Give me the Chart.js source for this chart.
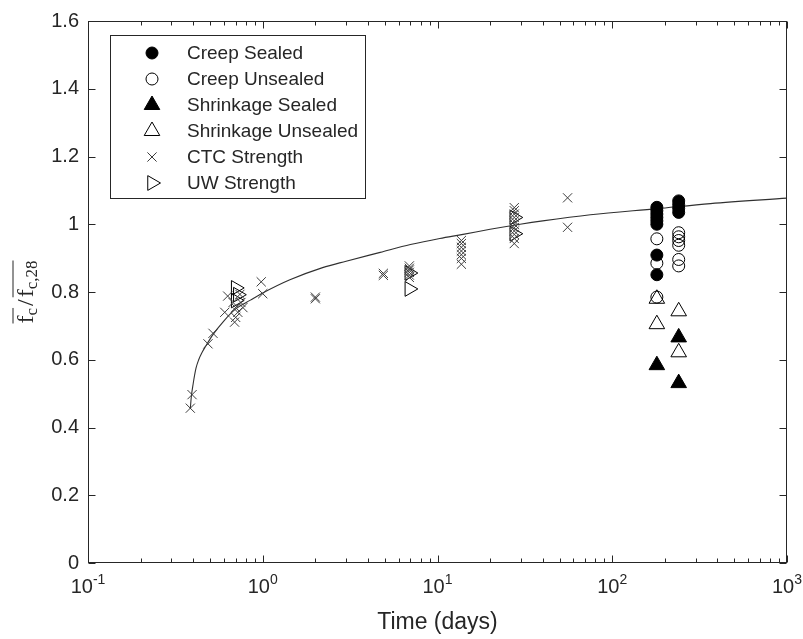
<!DOCTYPE html>
<html>
<head>
<meta charset="utf-8">
<title>Strength development</title>
<script src="https://cdn.jsdelivr.net/npm/chart.js@4.4.1/dist/chart.umd.min.js"></script>
<style>
  html, body { margin: 0; padding: 0; background: #fff; }
  canvas { display: block; }
</style>
</head>
<body>
<canvas id="strengthChart" width="803" height="639"></canvas>
<script>
// Fitted strength-gain curve (days, f/f28)
const fitDays  = [0.385, 0.39, 0.40, 0.415, 0.43, 0.45, 0.475, 0.52, 0.6, 0.7, 0.85, 1.0, 1.43, 2.2, 3.0, 4.7, 7, 10.3, 14, 20, 29.7, 40, 75, 180, 365, 1000];
const fitRatio = [0.455, 0.49, 0.53, 0.575, 0.60, 0.622, 0.643, 0.675, 0.715, 0.75, 0.776, 0.797, 0.836, 0.872, 0.891, 0.917, 0.94, 0.958, 0.97, 0.985, 1.0, 1.01, 1.028, 1.046, 1.061, 1.077];

// Measured strength ratios by specimen group
const creepSealedDays  = [180, 180, 180, 180, 180, 180, 180, 180, 240, 240, 240, 240];
const creepSealedRatio = [1.05, 1.04, 1.03, 1.02, 1.01, 1.0, 0.909, 0.851, 1.069, 1.058, 1.047, 1.035];

const creepUnsealedDays  = [180, 180, 180, 240, 240, 240, 240, 240, 240];
const creepUnsealedRatio = [0.957, 0.885, 0.785, 0.975, 0.963, 0.952, 0.938, 0.896, 0.877];

const shrinkSealedDays  = [180, 240, 240];
const shrinkSealedRatio = [0.584, 0.666, 0.531];

const shrinkUnsealedDays  = [180, 180, 240, 240];
const shrinkUnsealedRatio = [0.78, 0.705, 0.743, 0.622];

const ctcDays  = [0.385, 0.394, 0.486, 0.519, 0.606, 0.63, 0.676, 0.70, 0.72, 0.69, 0.70, 0.74, 0.77, 0.75,
                  0.98, 1.0, 2, 2, 4.9, 4.9, 6.9, 6.9, 6.9, 6.9, 6.9, 6.9,
                  13.7, 13.7, 13.7, 13.7, 13.7, 13.7, 13.7,
                  27.5, 27.5, 27.5, 27.5, 27.5, 27.5, 27.5, 27.5, 27.5, 27.5, 27.5, 55.5, 55.5];
const ctcRatio = [0.457, 0.497, 0.647, 0.678, 0.74, 0.788, 0.769, 0.754, 0.74, 0.711, 0.725, 0.793, 0.754, 0.769,
                  0.83, 0.795, 0.78, 0.785, 0.849, 0.855, 0.877, 0.87, 0.865, 0.858, 0.85, 0.843,
                  0.952, 0.943, 0.932, 0.921, 0.91, 0.899, 0.882,
                  1.049, 1.04, 1.03, 1.02, 1.01, 1.0, 0.99, 0.98, 0.97, 0.958, 0.943, 1.078, 0.991];

const uwDays  = [0.70, 0.72, 0.70, 6.9, 6.9, 27.5, 27.5];
const uwRatio = [0.812, 0.792, 0.775, 0.856, 0.809, 1.02, 0.972];

const yTicks = [0, 0.2, 0.4, 0.6, 0.8, 1, 1.2, 1.4, 1.6];
const xExponents = [-1, 0, 1, 2, 3];

const ink = '#262626';
const sans = '"Liberation Sans", Arial, Helvetica, sans-serif';
const serif = '"Liberation Serif", "Times New Roman", serif';

function toPoints(xs, ys) {
    return xs.map((d, i) => ({ x: d, y: ys[i] }));
}

function markerSet(label, xs, ys, style, filled, radius, rotation, color) {
    return {
        label: label,
        data: toPoints(xs, ys),
        pointStyle: style,
        pointRadius: radius,
        pointRotation: rotation || 0,
        pointBorderWidth: 1,
        pointBorderColor: color || '#000',
        pointBackgroundColor: filled ? '#000' : 'rgba(0,0,0,0)',
        showLine: false
    };
}

// Box, inward ticks, tick labels, axis labels and legend drawn MATLAB-style
const framePlugin = {
    id: 'matlabFrame',
    afterDraw(chart) {
        const ctx = chart.ctx;
        const a = chart.chartArea;
        const xs = chart.scales.x;
        const ys = chart.scales.y;
        const L = Math.round(a.left) + 0.5, R = Math.round(a.right) - 0.5;
        const T = Math.round(a.top) + 0.5, B = Math.round(a.bottom) - 0.5;

        ctx.save();
        ctx.strokeStyle = ink;
        ctx.lineWidth = 1;
        ctx.strokeRect(L, T, R - L, B - T);

        ctx.beginPath();
        yTicks.forEach(v => {
            const py = Math.round(ys.getPixelForValue(v)) + 0.5;
            ctx.moveTo(L, py); ctx.lineTo(L + 7, py);
            ctx.moveTo(R, py); ctx.lineTo(R - 7, py);
        });
        for (let e = -1; e <= 3; e++) {
            const px = Math.round(xs.getPixelForValue(Math.pow(10, e))) + 0.5;
            ctx.moveTo(px, B); ctx.lineTo(px, B - 7);
            ctx.moveTo(px, T); ctx.lineTo(px, T + 7);
            if (e < 3) {
                for (let m = 2; m <= 9; m++) {
                    const qx = Math.round(xs.getPixelForValue(m * Math.pow(10, e))) + 0.5;
                    ctx.moveTo(qx, B); ctx.lineTo(qx, B - 4);
                    ctx.moveTo(qx, T); ctx.lineTo(qx, T + 4);
                }
            }
        }
        ctx.stroke();

        // x tick labels as 10 with superscript exponent
        ctx.fillStyle = ink;
        ctx.textBaseline = 'alphabetic';
        ctx.textAlign = 'left';
        xExponents.forEach(e => {
            const px = xs.getPixelForValue(Math.pow(10, e));
            ctx.font = '20px ' + sans;
            const wBase = ctx.measureText('10').width;
            ctx.font = '14px ' + sans;
            const wExp = ctx.measureText(String(e)).width;
            const start = px - (wBase + wExp) / 2;
            ctx.font = '20px ' + sans;
            ctx.fillText('10', start, 593);
            ctx.font = '14px ' + sans;
            ctx.fillText(String(e), start + wBase, 584);
        });

        ctx.font = '23px ' + sans;
        ctx.textAlign = 'center';
        ctx.fillText('Time (days)', (a.left + a.right) / 2, 629);

        drawYLabel(ctx, 33, (a.top + a.bottom) / 2);
        drawLegend(chart);
        ctx.restore();
    }
};

function drawYLabel(ctx, baseX, midY) {
    ctx.save();
    ctx.translate(baseX, midY);
    ctx.rotate(-Math.PI / 2);
    ctx.textAlign = 'left';
    ctx.textBaseline = 'alphabetic';
    const big = '24px ' + serif, small = '17px ' + serif;
    const parts = [
        { t: 'f', f: big, dy: 0, bar: 1 },
        { t: 'c', f: small, dy: 4, bar: 1 },
        { t: '/', f: big, dy: 0, bar: 0, pad: 2 },
        { t: 'f', f: big, dy: 0, bar: 2 },
        { t: 'c,28', f: small, dy: 4, bar: 2 }
    ];
    let total = 0;
    parts.forEach(p => {
        ctx.font = p.f;
        p.w = ctx.measureText(p.t).width + (p.pad || 0) * 2;
        total += p.w;
    });
    let cx = -total / 2;
    const bars = {};
    parts.forEach(p => {
        ctx.font = p.f;
        ctx.fillText(p.t, cx + (p.pad || 0), p.dy);
        if (p.bar) {
            const b = bars[p.bar] || (bars[p.bar] = { s: cx, e: cx });
            b.e = cx + p.w;
        }
        cx += p.w;
    });
    ctx.strokeStyle = ink;
    ctx.lineWidth = 1;
    ctx.beginPath();
    Object.values(bars).forEach(b => {
        ctx.moveTo(b.s, -20); ctx.lineTo(b.e, -20);
    });
    ctx.stroke();
    ctx.restore();
}

function drawLegend(chart) {
    const ctx = chart.ctx;
    const sets = chart.data.datasets.filter(d => !d.isFit);
    const box = { x: 110.5, y: 35.5, w: 255, h: 163 };
    ctx.save();
    ctx.fillStyle = '#fff';
    ctx.fillRect(box.x, box.y, box.w, box.h);
    ctx.strokeStyle = ink;
    ctx.lineWidth = 1;
    ctx.strokeRect(box.x, box.y, box.w, box.h);
    sets.forEach((d, i) => {
        const cy = 53 + i * 26;
        ctx.fillStyle = d.pointBackgroundColor;
        ctx.strokeStyle = d.pointBorderColor;
        ctx.lineWidth = d.pointBorderWidth;
        Chart.helpers.drawPoint(ctx, {
            pointStyle: d.pointStyle,
            radius: d.pointRadius,
            rotation: d.pointRotation,
            borderWidth: d.pointBorderWidth
        }, 152, cy);
        ctx.fillStyle = ink;
        ctx.font = '19px ' + sans;
        ctx.textAlign = 'left';
        ctx.textBaseline = 'middle';
        ctx.fillText(d.label, 187, cy + 1);
    });
    ctx.restore();
}

const datasets = [
    markerSet('Creep Sealed', creepSealedDays, creepSealedRatio, 'circle', true, 6),
    markerSet('Creep Unsealed', creepUnsealedDays, creepUnsealedRatio, 'circle', false, 6),
    markerSet('Shrinkage Sealed', shrinkSealedDays, shrinkSealedRatio, 'triangle', true, 9),
    markerSet('Shrinkage Unsealed', shrinkUnsealedDays, shrinkUnsealedRatio, 'triangle', false, 9),
    markerSet('CTC Strength', ctcDays, ctcRatio, 'crossRot', false, 6.5, 0, '#3c3c3c'),
    markerSet('UW Strength', uwDays, uwRatio, 'triangle', false, 8.5, 90),
    {
        label: 'fit',
        isFit: true,
        data: toPoints(fitDays, fitRatio),
        showLine: true,
        borderColor: '#303030',
        borderWidth: 1.1,
        pointRadius: 0,
        cubicInterpolationMode: 'monotone'
    }
];

new Chart(document.getElementById('strengthChart'), {
    type: 'scatter',
    data: { datasets: datasets },
    options: {
        responsive: false,
        animation: false,
        events: [],
        layout: { padding: { left: 0, right: 16, top: 12, bottom: 0 } },
        plugins: {
            legend: { display: false },
            tooltip: { enabled: false }
        },
        scales: {
            x: {
                type: 'logarithmic',
                min: 0.1,
                max: 1000,
                grid: { display: false, drawTicks: false },
                border: { display: false },
                ticks: { display: false },
                afterFit: s => { s.height = 76; }
            },
            y: {
                min: 0,
                max: 1.6,
                grid: { display: false, drawTicks: false },
                border: { display: false },
                afterBuildTicks: s => { s.ticks = yTicks.map(v => ({ value: v })); },
                ticks: {
                    color: ink,
                    padding: 9,
                    font: { family: sans, size: 20 },
                    callback: v => String(Math.round(v * 10) / 10)
                },
                afterFit: s => { s.width = 88; }
            }
        }
    },
    plugins: [framePlugin]
});
</script>
</body>
</html>
